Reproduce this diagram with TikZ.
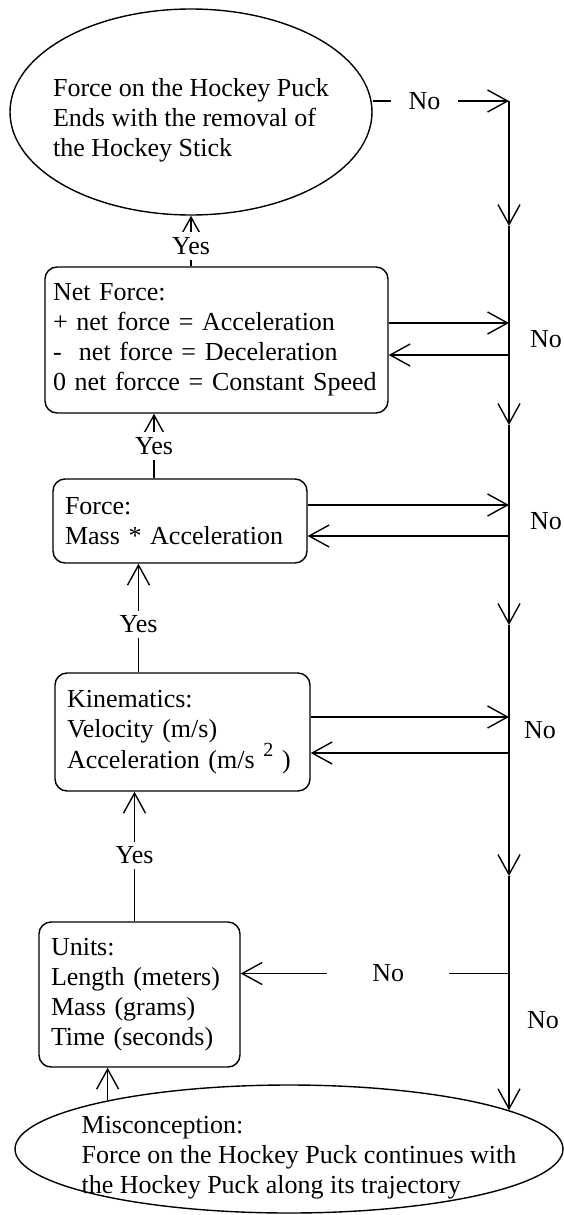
\documentclass[tikz,border=0pt]{standalone}
\usepackage{fontspec}
\setmainfont{Liberation Serif}
\usetikzlibrary{positioning}
\usetikzlibrary{arrows.meta}
\usetikzlibrary{shapes.geometric}

% text of an oval, moved right by #1 and down by #2
\newcommand{\ovallines}[3]{\raisebox{-#2}[\height][\depth]{\hspace*{#1}\begin{tabular}{@{}l@{}}#3\end{tabular}}}

\tikzset{
  flowbox/.style={draw, rounded corners=12pt, align=left, inner xsep=12pt, inner ysep=0pt},
  flowoval/.style={draw, ellipse, inner xsep=-60pt, inner ysep=-10pt},
  flowarrow/.style={-{Straight Barb[length=20pt,width=22pt]}},
  gaplabel/.style={fill=white, inner xsep=3pt, inner ysep=5pt},
}

\begin{document}
\begin{tikzpicture}[x=1pt, y=-1pt, line width=1.4pt, font=\fontsize{26}{30}\selectfont]
\useasboundingbox (0,0) rectangle (563,1215);

% End state
\node[flowoval,
      minimum width=362pt,
      minimum height=206pt
      ] (puckend) at (191,112) {\ovallines{0pt}{8pt}{Force on the Hockey Puck\\Ends with the removal of\\the Hockey Stick}};

% Net force
\node[flowbox,
      inner xsep=8pt,
      text width=327pt,
      minimum height=146pt
      ] (netforce) at (216.5,340) {Net Force:\\+ net force = Acceleration\\-\ \ net force = Deceleration\\0 net forcce = Constant Speed};

% Force
\node[flowbox,
      text width=230pt,
      minimum height=84pt
      ] (force) at (180,521) {Force:\\Mass * Acceleration};

% Kinematics
\node[flowbox,
      text width=231pt,
      minimum height=118pt
      ] (kinematics) at (182.5,732) {Kinematics:\\Velocity (m/s)\\Acceleration (m/s \raisebox{0.45em}{\fontsize{20}{20}\selectfont 2} )};

% Units
\node[flowbox,
      text width=177pt,
      minimum height=145pt
      ] (units) at (139.5,994.5) {Units:\\Length (meters)\\Mass (grams)\\Time (seconds)};

% Start state
\node[flowoval,
      minimum width=548pt,
      minimum height=128pt
      ] (misconception) at (289,1149) {\ovallines{20pt}{8pt}{Misconception:\\Force on the Hockey Puck continues with\\the Hockey Puck along its trajectory}};

% No line on the right
\coordinate (busTop) at (509,101);
\coordinate (bus1) at (509,226);
\coordinate (bus2) at (509,425);
\coordinate (bus3) at (509,625);
\coordinate (bus4) at (509,876);

\draw[flowarrow] (puckend.east |- busTop) -- node[gaplabel, pos=0.38, inner xsep=18pt]{No} (busTop);
\foreach \a/\b in {busTop/bus1, bus1/bus2, bus2/bus3, bus3/bus4}
  \draw[flowarrow] (\a) -- (\b);
\draw[flowarrow] (bus4) -- (bus4 |- misconception.10);

% Loops back from the boxes
\draw[flowarrow] ([yshift=17pt]netforce.east) -- ([yshift=17pt]netforce.east -| busTop);
\draw[flowarrow] ([yshift=-15pt]netforce.east -| busTop) -- ([yshift=-15pt]netforce.east);
\draw[flowarrow] ([yshift=16pt]force.east) -- ([yshift=16pt]force.east -| busTop);
\draw[flowarrow] ([yshift=-15pt]force.east -| busTop) -- ([yshift=-15pt]force.east);
\draw[flowarrow] ([yshift=15pt]kinematics.east) -- ([yshift=15pt]kinematics.east -| busTop);
\draw[flowarrow] ([yshift=-21pt]kinematics.east -| busTop) -- ([yshift=-21pt]kinematics.east);
\draw[flowarrow] ([yshift=21pt]units.east -| busTop) -- node[gaplabel, pos=0.45, inner xsep=45pt]{No} ([yshift=21pt]units.east);

\node (noNet) at (546,339) {No};
\node (noForce) at (546,521) {No};
\node (noKin) at (540,730) {No};
\node (noUnits) at (543,1020) {No};

% Yes arrows
\draw[flowarrow] (netforce.north -| puckend.south) -- node[gaplabel, pos=0.4]{Yes} (puckend.south);
\draw[flowarrow] ([xshift=-26pt]force.north) -- node[gaplabel]{Yes} ([xshift=-26pt]force.north |- netforce.south);
\draw[flowarrow] ([xshift=-44pt]kinematics.north) -- node[gaplabel, pos=0.44]{Yes} ([xshift=-44pt]kinematics.north |- force.south);
\draw[flowarrow] ([xshift=-5pt]units.north) -- node[gaplabel, pos=0.51]{Yes} ([xshift=-5pt]units.north |- kinematics.south);
\draw[flowarrow] (misconception.165) -- (misconception.165 |- units.south);

\end{tikzpicture}
\end{document}
